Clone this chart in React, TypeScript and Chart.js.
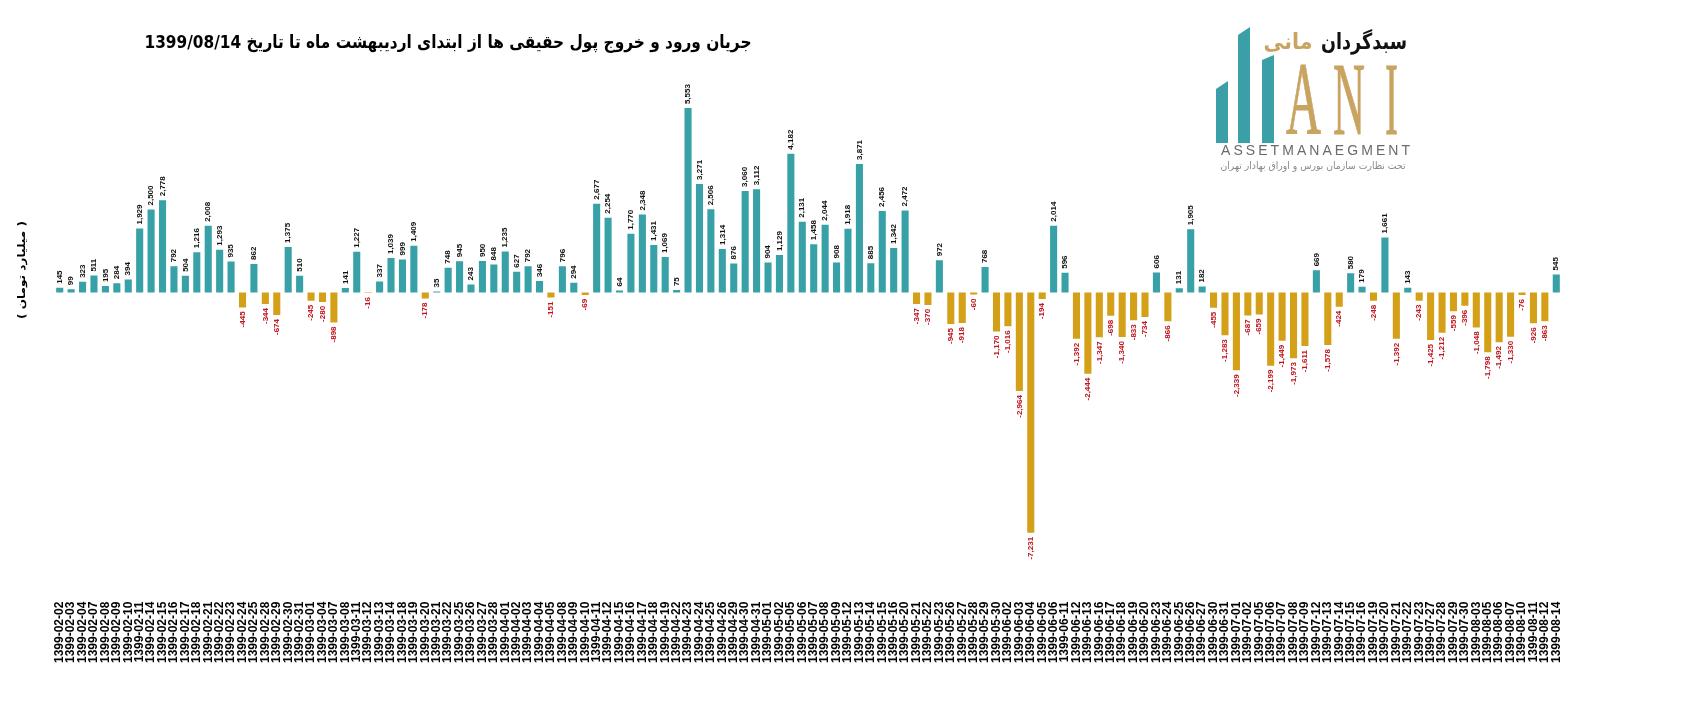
import React, { useEffect, useRef } from "react";
import { Chart, registerables } from "chart.js";

Chart.register(...registerables);

const dates: string[] = [
  "1399-02-02", "1399-02-03", "1399-02-04", "1399-02-07", "1399-02-08", "1399-02-09", "1399-02-10", "1399-02-11",
  "1399-02-14", "1399-02-15", "1399-02-16", "1399-02-17", "1399-02-18", "1399-02-21", "1399-02-22", "1399-02-23",
  "1399-02-24", "1399-02-25", "1399-02-28", "1399-02-29", "1399-02-30", "1399-02-31", "1399-03-01", "1399-03-04",
  "1399-03-07", "1399-03-08", "1399-03-11", "1399-03-12", "1399-03-13", "1399-03-14", "1399-03-18", "1399-03-19",
  "1399-03-20", "1399-03-21", "1399-03-22", "1399-03-25", "1399-03-26", "1399-03-27", "1399-03-28", "1399-04-01",
  "1399-04-02", "1399-04-03", "1399-04-04", "1399-04-05", "1399-04-08", "1399-04-09", "1399-04-10", "1399-04-11",
  "1399-04-12", "1399-04-15", "1399-04-16", "1399-04-17", "1399-04-18", "1399-04-19", "1399-04-22", "1399-04-23",
  "1399-04-24", "1399-04-25", "1399-04-26", "1399-04-29", "1399-04-30", "1399-04-31", "1399-05-01", "1399-05-02",
  "1399-05-05", "1399-05-06", "1399-05-07", "1399-05-08", "1399-05-09", "1399-05-12", "1399-05-13", "1399-05-14",
  "1399-05-15", "1399-05-16", "1399-05-20", "1399-05-21", "1399-05-22", "1399-05-23", "1399-05-26", "1399-05-27",
  "1399-05-28", "1399-05-29", "1399-05-30", "1399-06-02", "1399-06-03", "1399-06-04", "1399-06-05", "1399-06-06",
  "1399-06-11", "1399-06-12", "1399-06-13", "1399-06-16", "1399-06-17", "1399-06-18", "1399-06-19", "1399-06-20",
  "1399-06-23", "1399-06-24", "1399-06-25", "1399-06-26", "1399-06-27", "1399-06-30", "1399-06-31", "1399-07-01",
  "1399-07-02", "1399-07-05", "1399-07-06", "1399-07-07", "1399-07-08", "1399-07-09", "1399-07-12", "1399-07-13",
  "1399-07-14", "1399-07-15", "1399-07-16", "1399-07-19", "1399-07-20", "1399-07-21", "1399-07-22", "1399-07-23",
  "1399-07-27", "1399-07-28", "1399-07-29", "1399-07-30", "1399-08-03", "1399-08-05", "1399-08-06", "1399-08-07",
  "1399-08-10", "1399-08-11", "1399-08-12", "1399-08-14",
];

const flows: number[] = [
  145, 99, 323, 511, 195, 284, 394, 1929,
  2500, 2778, 792, 504, 1216, 2008, 1293, 935,
  -445, 862, -344, -674, 1375, 510, -245, -280,
  -898, 141, 1227, -16, 337, 1039, 999, 1409,
  -178, 35, 748, 945, 243, 950, 848, 1235,
  627, 792, 346, -151, 796, 294, -69, 2677,
  2254, 64, 1770, 2348, 1431, 1069, 75, 5553,
  3271, 2506, 1314, 876, 3060, 3112, 904, 1129,
  4182, 2131, 1458, 2044, 908, 1918, 3871, 885,
  2456, 1342, 2472, -347, -370, 972, -945, -918,
  -60, 768, -1170, -1016, -2964, -7231, -194, 2014,
  596, -1392, -2444, -1347, -698, -1340, -833, -734,
  606, -866, 131, 1905, 182, -455, -1283, -2339,
  -687, -659, -2199, -1449, -1973, -1611, 669, -1578,
  -424, 580, 179, -248, 1661, -1392, 143, -243,
  -1425, -1212, -559, -396, -1048, -1798, -1492, -1330,
  -76, -926, -863, 545,
];

const titleText = "جریان ورود و خروج پول حقیقی ها از ابتدای اردیبهشت ماه تا تاریخ 1399/08/14";
const yTitleText = "( میلیارد تومان )";

const POS_COLOR = "#38A1A7";
const NEG_COLOR = "#D4A017";
const NEG_LABEL_COLOR = "#C0141E";

const fmt = (v: number) => v.toLocaleString("en-US");

const valueLabels = {
  id: "valueLabels",
  afterDatasetsDraw(chart: any) {
    const ctx = chart.ctx as CanvasRenderingContext2D;
    const meta = chart.getDatasetMeta(0);
    const data = chart.data.datasets[0].data as number[];
    ctx.save();
    ctx.font = "bold 8px 'Liberation Sans', Arial, sans-serif";
    ctx.textBaseline = "middle";
    meta.data.forEach((el: any, i: number) => {
      const v = data[i];
      const { x, y } = el.getProps(["x", "y"], true);
      ctx.save();
      ctx.translate(x, y);
      ctx.rotate(-Math.PI / 2);
      if (v >= 0) {
        ctx.textAlign = "left";
        ctx.fillStyle = "#111111";
        ctx.fillText(fmt(v), 4, 0);
      } else {
        ctx.textAlign = "right";
        ctx.fillStyle = NEG_LABEL_COLOR;
        ctx.fillText(fmt(v), -4, 0);
      }
      ctx.restore();
    });
    ctx.restore();
  },
};

function FlowChart() {
  const ref = useRef<HTMLCanvasElement | null>(null);
  useEffect(() => {
    if (!ref.current) return;
    const chart = new Chart(ref.current, {
      type: "bar",
      data: {
        labels: dates,
        datasets: [
          {
            data: flows,
            backgroundColor: flows.map((v) => (v >= 0 ? POS_COLOR : NEG_COLOR)),
            borderWidth: 0,
            categoryPercentage: 1,
            barPercentage: 0.62,
          },
        ],
      },
      options: {
        responsive: false,
        animation: false,
        devicePixelRatio: 1,
        layout: { padding: { top: 60, right: 142, bottom: 56, left: 54 } },
        plugins: {
          legend: { display: false },
          tooltip: { enabled: false },
          title: { display: false },
        },
        scales: {
          x: {
            grid: { display: false, drawTicks: false },
            border: { display: false },
            ticks: {
              autoSkip: false,
              maxRotation: 90,
              minRotation: 90,
              padding: 3,
              color: "#000000",
              font: { family: "'Liberation Sans', Arial, sans-serif", size: 12, weight: "bold" },
            },
          },
          y: {
            min: -9210,
            max: 7000,
            ticks: { display: false, stepSize: 1000 },
            grid: {
              drawTicks: false,
              lineWidth: 1,
              color: (c: any) => (c.tick && c.tick.value === 0 ? "#d4d4d4" : "rgba(0,0,0,0)"),
            },
            border: { display: false },
          },
        },
      },
      plugins: [valueLabels],
    });
    return () => chart.destroy();
  }, []);
  return <canvas ref={ref} width={1704} height={722} style={{ position: "absolute", left: 0, top: 0, display: "block" }} />;
}

function Overlay() {
  const gold = "#C9A461";
  const teal = "#3A9FA6";
  return (
    <svg width={1704} height={722} style={{ position: "absolute", left: 0, top: 0, pointerEvents: "none" }}>
      <text
        x={448}
        y={48}
        textAnchor="middle"
        direction="rtl"
        fontFamily="'DejaVu Sans', sans-serif"
        fontWeight="bold"
        fontSize={18}
        textLength={607}
        lengthAdjust="spacingAndGlyphs"
        fill="#000"
      >
        {titleText}
      </text>
      <text
        transform="translate(25,270) rotate(-90)"
        textAnchor="middle"
        fontFamily="'DejaVu Sans', sans-serif"
        fontWeight="bold"
        fontSize={10.5}
        textLength={98}
        lengthAdjust="spacingAndGlyphs"
        fill="#000"
      >
        {yTitleText}
      </text>
      {/* logo */}
      <polygon points="1216,89 1228,81 1228,143 1216,143" fill={teal} />
      <polygon points="1238,35 1250,27 1250,143 1238,143" fill={teal} />
      <polygon points="1262,60 1274,55 1274,143 1262,143" fill={teal} />
      <g fill={gold} stroke={gold} strokeWidth={1}>
        <text x={1286} y={134} fontFamily="'Liberation Serif', serif" fontSize={103} textLength={35} lengthAdjust="spacingAndGlyphs">A</text>
        <text x={1333} y={134} fontFamily="'Liberation Serif', serif" fontSize={103} textLength={32} lengthAdjust="spacingAndGlyphs">N</text>
        <text x={1385} y={134} fontFamily="'Liberation Serif', serif" fontSize={103} textLength={13} lengthAdjust="spacingAndGlyphs">I</text>
      </g>
      <text x={1364} y={49} textAnchor="middle" direction="rtl" fontFamily="'DejaVu Sans', sans-serif" fontWeight="bold" fontSize={22} textLength={86} lengthAdjust="spacingAndGlyphs" fill="#111">سبدگردان</text>
      <text x={1288} y={49} textAnchor="middle" direction="rtl" fontFamily="'DejaVu Sans', sans-serif" fontWeight="bold" fontSize={22} textLength={49} lengthAdjust="spacingAndGlyphs" fill={gold}>مانی</text>
      <text x={1221} y={155} fontFamily="'Liberation Sans', Arial, sans-serif" fontSize={14} textLength={189} lengthAdjust="spacing" fill="#6b6b6b">ASSETMANAEGMENT</text>
      <text x={1313} y={169} textAnchor="middle" direction="rtl" fontFamily="'DejaVu Sans', sans-serif" fontSize={10} textLength={185} lengthAdjust="spacingAndGlyphs" fill="#8a8a8a">تحت نظارت سازمان بورس و اوراق بهادار تهران</text>
    </svg>
  );
}

export default function App() {
  return (
    <div style={{ position: "absolute", left: 0, top: 0, width: 1704, height: 722, background: "#ffffff", overflow: "hidden" }}>
      <FlowChart />
      <Overlay />
    </div>
  );
}
